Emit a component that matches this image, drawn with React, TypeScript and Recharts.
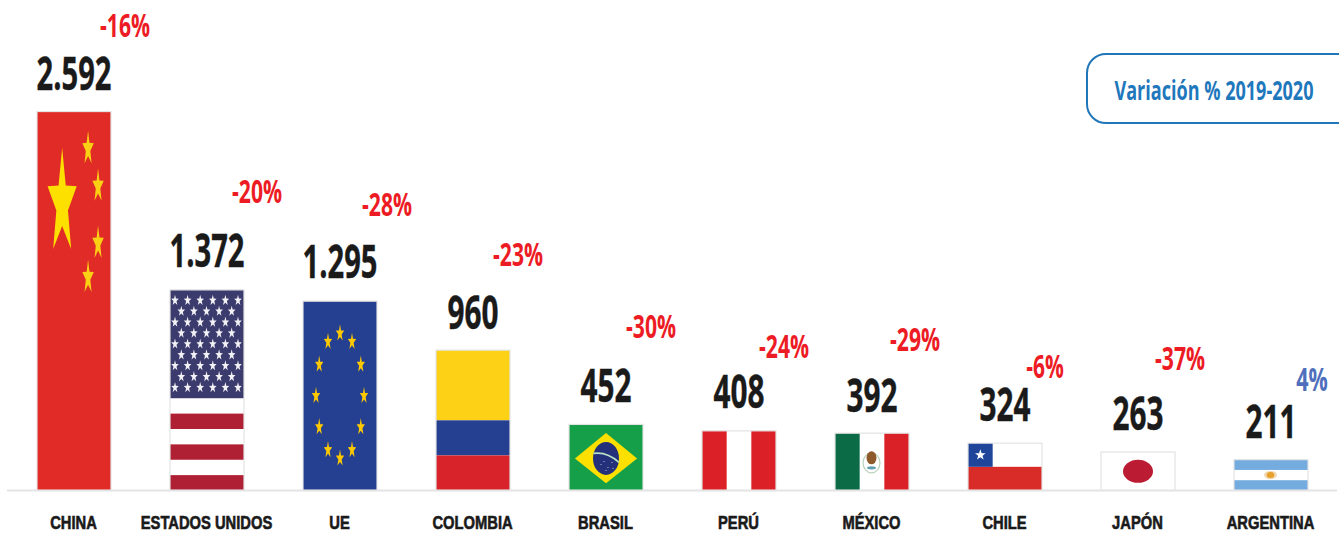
import React from "react";
import { BarChart, Bar, XAxis, YAxis, LabelList } from "recharts";

const categories = ["CHINA", "ESTADOS UNIDOS", "UE", "COLOMBIA", "BRASIL", "PERÚ", "MÉXICO", "CHILE", "JAPÓN", "ARGENTINA"];
const values = [2592, 1372, 1295, 960, 452, 408, 392, 324, 263, 211];
const valueLabels = ["2.592", "1.372", "1.295", "960", "452", "408", "392", "324", "263", "211"];
const variations = ["-16%", "-20%", "-28%", "-23%", "-30%", "-24%", "-29%", "-6%", "-37%", "4%"];

const table = categories.map((name, i) => ({ name, value: values[i], label: valueLabels[i], variation: variations[i] }));

// layout of the free-floating percentage labels, relative to the top centre of each bar
const PCT_DX = [51, 50, 47, 45, 45, 45, 43, 40, 42, 41];
const PCT_DY = [-75, -87, -85, -84, -86, -73, -82, -65, -82, -69];
const VALUE_DY = [-21.5, -23, -23, -21.5, -22.5, -22.5, -21.5, -22.5, -22.5, -21.5];

const BORDER = "#e3e3e3";

const starPoints = (cx: number, cy: number, rx: number, ry: number, rot = 0) => {
  const pts: string[] = [];
  for (let i = 0; i < 10; i++) {
    const a = -Math.PI / 2 + (i * Math.PI) / 5 + rot;
    const r = i % 2 === 0 ? 1 : 0.4;
    pts.push(`${(cx + Math.cos(a) * rx * r).toFixed(2)},${(cy + Math.sin(a) * ry * r).toFixed(2)}`);
  }
  return pts.join(" ");
};

type Box = { x: number; y: number; w: number; h: number };

const China = ({ x, y, w, h }: Box) => {
  const small: [number, number][] = [[0.69, 0.098], [0.825, 0.197], [0.825, 0.348], [0.69, 0.438]];
  return (
    <g>
      <rect x={x} y={y} width={w} height={h} fill="#e02b26" />
      <polygon points={starPoints(x + 0.34 * w, y + 0.243 * h, 15.3, 56)} fill="#fde000" />
      {small.map(([fx, fy], i) => (
        <polygon key={i} points={starPoints(x + fx * w, y + fy * h, 6, 18)} fill="#fbd014" />
      ))}
    </g>
  );
};

const USA = ({ x, y, w, h }: Box) => {
  const cantonH = h * 0.54;
  const sh = (h - cantonH) / 6;
  const rows = Array.from({ length: 9 }, (_, r) => r);
  return (
    <g>
      <rect x={x} y={y} width={w} height={h} fill="#ffffff" />
      <rect x={x} y={y} width={w} height={cantonH} fill="#3c3b6e" />
      {[1, 3, 5].map((s) => (
        <rect key={s} x={x} y={y + cantonH + s * sh} width={w} height={sh} fill="#b02035" />
      ))}
      {rows.map((r) => {
        const n = r % 2 === 0 ? 6 : 5;
        const off = r % 2 === 0 ? 5 : 11.3;
        return Array.from({ length: n }, (_, c) => (
          <polygon
            key={`${r}-${c}`}
            points={starPoints(x + off + c * 12.6, y + 10.5 + r * 10.9, 4, 5.6)}
            fill="#f2f2f6"
          />
        ));
      })}
    </g>
  );
};

const EU = ({ x, y, w, h }: Box) => {
  const cx = x + w / 2;
  const cy = y + h / 2;
  return (
    <g>
      <rect x={x} y={y} width={w} height={h} fill="#253f91" />
      {Array.from({ length: 12 }, (_, i) => {
        const a = (i * Math.PI) / 6;
        return (
          <polygon key={i} points={starPoints(cx + Math.sin(a) * 24, cy - Math.cos(a) * 62.5, 4.4, 9)} fill="#fcc800" />
        );
      })}
    </g>
  );
};

const Colombia = ({ x, y, w, h }: Box) => (
  <g>
    <rect x={x} y={y} width={w} height={h / 2} fill="#fcd116" />
    <rect x={x} y={y + h / 2} width={w} height={h / 4} fill="#253f91" />
    <rect x={x} y={y + (3 * h) / 4} width={w} height={h / 4} fill="#d8232a" />
  </g>
);

const Brazil = ({ x, y, w, h }: Box) => {
  const cx = x + w * 0.5;
  const cy = y + h * 0.515;
  const dots: [number, number][] = [[-5, 6], [2, 9], [6, 4], [-2, 3], [7, 10], [0, 12]];
  return (
    <g>
      <rect x={x} y={y} width={w} height={h} fill="#159f49" />
      <polygon points={`${x + 0.08 * w},${cy} ${cx},${y + 0.13 * h} ${x + 0.92 * w},${cy} ${cx},${y + 0.89 * h}`} fill="#fde000" />
      <ellipse cx={cx} cy={cy} rx={13} ry={16.5} fill="#24307a" />
      <path d={`M${cx - 12.5},${cy - 5} Q${cx + 1},${cy - 7} ${cx + 13},${cy + 4}`} stroke="#b6dfc8" strokeWidth={1.7} fill="none" />
      {dots.map(([dx, dy], i) => (
        <circle key={i} cx={cx + dx} cy={cy + dy} r={0.5} fill="#dfe6f5" />
      ))}
    </g>
  );
};

const Peru = ({ x, y, w, h }: Box) => (
  <g>
    <rect x={x} y={y} width={w} height={h} fill="#ffffff" />
    <rect x={x} y={y} width={w / 3} height={h} fill="#dc2027" />
    <rect x={x + (2 * w) / 3} y={y} width={w / 3} height={h} fill="#dc2027" />
  </g>
);

const Mexico = ({ x, y, w, h }: Box) => {
  const cx = x + w / 2 - 0.5;
  const cy = y + h * 0.5;
  return (
    <g>
      <rect x={x} y={y} width={w} height={h} fill="#ffffff" />
      <rect x={x} y={y} width={w / 3} height={h} fill="#0b6b47" />
      <rect x={x + (2 * w) / 3} y={y} width={w / 3} height={h} fill="#db2128" />
      <ellipse cx={cx} cy={cy + 1} rx={8.5} ry={10} fill="none" stroke="#b9d2bc" strokeWidth={1.2} />
      <ellipse cx={cx} cy={cy - 4} rx={5} ry={6.5} fill="#8f5a2b" />
      <ellipse cx={cx} cy={cy + 6} rx={4.5} ry={1.6} fill="#5f9fb0" />
    </g>
  );
};

const Chile = ({ x, y, w, h }: Box) => (
  <g>
    <rect x={x} y={y} width={w} height={h / 2} fill="#ffffff" />
    <rect x={x} y={y + h / 2} width={w} height={h / 2} fill="#d92b27" />
    <rect x={x} y={y} width={w / 3} height={h / 2} fill="#1f459b" />
    <polygon points={starPoints(x + w / 6, y + h / 4, 5.6, 5.6)} fill="#ffffff" />
  </g>
);

const Japan = ({ x, y, w, h }: Box) => (
  <g>
    <rect x={x} y={y} width={w} height={h} fill="#ffffff" />
    <ellipse cx={x + w / 2} cy={y + h / 2} rx={15} ry={11.5} fill="#bc1c33" />
  </g>
);

const Argentina = ({ x, y, w, h }: Box) => (
  <g>
    <rect x={x} y={y} width={w} height={h} fill="#ffffff" />
    <rect x={x} y={y} width={w} height={h / 3} fill="#74acdf" />
    <rect x={x} y={y + (2 * h) / 3} width={w} height={h / 3} fill="#74acdf" />
    <ellipse cx={x + w / 2 - 0.5} cy={y + h / 2} rx={6.5} ry={4.2} fill="#f0d9b5" />
    <ellipse cx={x + w / 2 - 0.5} cy={y + h / 2} rx={3.8} ry={3} fill="#e8a02c" />
  </g>
);

const FLAGS: Record<string, React.FC<Box>> = {
  CHINA: China,
  "ESTADOS UNIDOS": USA,
  UE: EU,
  COLOMBIA: Colombia,
  BRASIL: Brazil,
  "PERÚ": Peru,
  "MÉXICO": Mexico,
  CHILE: Chile,
  "JAPÓN": Japan,
  ARGENTINA: Argentina,
};

const FlagBar = (props: any) => {
  const { x, y, width, height, payload } = props;
  const Flag = FLAGS[payload.name];
  return (
    <g>
      <Flag x={x} y={y} w={width} h={height} />
      <rect x={x} y={y} width={width} height={height} fill="none" stroke={BORDER} strokeWidth={1.2} />
    </g>
  );
};

const valueWidth = (s: string) => s.replace(/\./g, "").length * 17 + (s.includes(".") ? 7 : 0);
const pctWidth = (s: string) =>
  [...s].reduce((a, c) => a + (c === "-" ? 6 : c === "%" ? 19 : 12.5), 0);

const ValueLabel = (props: any) => {
  const { x, y, width, index } = props;
  const t = table[index];
  return (
    <text
      x={x + width / 2}
      y={y + VALUE_DY[index]}
      textAnchor="middle"
      fontFamily="'Open Sans', sans-serif"
      fontWeight={700}
      fontSize={47}
      fill="#1a1a1a"
      stroke="#1a1a1a"
      strokeWidth={0.4}
      textLength={valueWidth(t.label)}
      lengthAdjust="spacingAndGlyphs"
    >
      {t.label}
    </text>
  );
};

const PctLabel = (props: any) => {
  const { x, y, width, index } = props;
  const t = table[index];
  return (
    <text
      x={x + width / 2 + PCT_DX[index]}
      y={y + PCT_DY[index]}
      textAnchor="middle"
      fontFamily="'Open Sans', sans-serif"
      fontWeight={700}
      fontSize={33}
      fill={t.variation.startsWith("-") ? "#ed1c24" : "#4f6fbd"}
      textLength={pctWidth(t.variation)}
      lengthAdjust="spacingAndGlyphs"
    >
      {t.variation}
    </text>
  );
};

const CategoryTick = (props: any) => {
  const { x, payload } = props;
  return (
    <text
      transform={`translate(${x},529) scale(0.82,1)`}
      textAnchor="middle"
      fontFamily="'Liberation Sans', sans-serif"
      fontWeight={700}
      fontSize={18}
      fill="#1a1a1a"
      stroke="#1a1a1a"
      strokeWidth={0.6}
    >
      {payload.value}
    </text>
  );
};

export default function App() {
  return (
    <div style={{ position: "absolute", left: 0, top: 0, width: 1339, height: 533, background: "#fff", overflow: "hidden" }}>
      <BarChart
        width={1339}
        height={533}
        data={table}
        margin={{ top: 0, right: 2, bottom: 0, left: 7 }}
      >
        <XAxis
          dataKey="name"
          height={42.5}
          interval={0}
          tickLine={false}
          axisLine={{ stroke: "#e4e4e4", strokeWidth: 2 }}
          tick={CategoryTick}
        />
        <YAxis hide domain={[0, 3355]} />
        <Bar dataKey="value" barSize={74} shape={FlagBar} isAnimationActive={false}>
          <LabelList dataKey="label" content={ValueLabel} />
          <LabelList dataKey="variation" content={PctLabel} />
        </Bar>
      </BarChart>
      <div
        style={{
          position: "absolute",
          left: 1086,
          top: 53,
          width: 270,
          height: 67,
          border: "2px solid #2176b8",
          borderRadius: 20,
          boxSizing: "content-box",
        }}
      />
      <svg style={{ position: "absolute", left: 0, top: 0 }} width={1339} height={533}>
        <text
          x={1214}
          y={100}
          textAnchor="middle"
          fontFamily="'Open Sans', sans-serif"
          fontWeight={700}
          fontSize={26}
          fill="#1f78bc"
          textLength={199}
          lengthAdjust="spacingAndGlyphs"
        >
          Variación % 2019-2020
        </text>
      </svg>
    </div>
  );
}
